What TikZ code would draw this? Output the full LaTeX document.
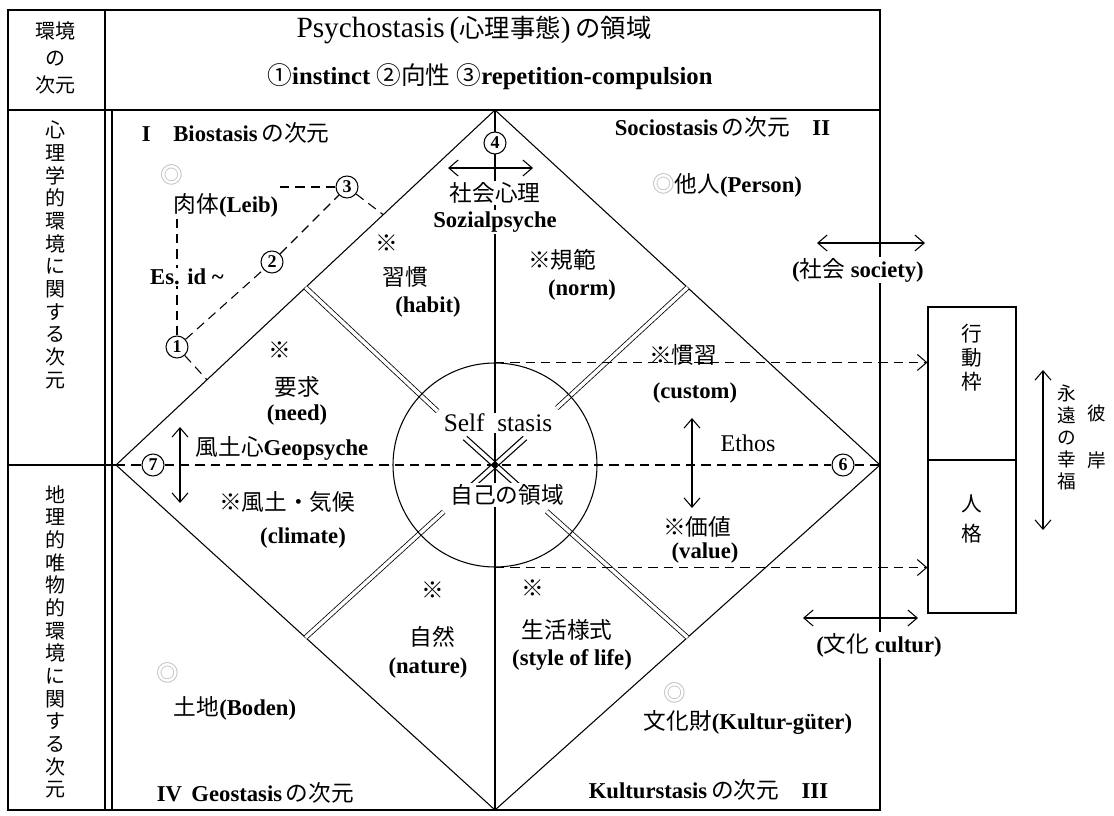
\documentclass[tikz,border=0pt]{standalone}
\usepackage{fontspec}
\setmainfont{Liberation Serif}
\newfontfamily\jp{Noto Sans CJK JP}
\usetikzlibrary{arrows.meta, calc}

% Japanese text inside Latin labels
\newcommand{\ja}[1]{{\jp\mdseries #1}}

\begin{document}
\begin{tikzpicture}[
  x=0.75pt, y=-0.75pt,
  line width=0.8pt,
  lab/.style={inner sep=1pt, font=\fontsize{17}{19}\selectfont\bfseries},
  mask/.style={lab, fill=white},
  num/.style={draw, circle, fill=white, inner sep=0pt, minimum size=16.5pt, font=\fontsize{13.5}{13.5}\selectfont\bfseries},
  vtext/.style={align=center, inner sep=0pt, font=\jp\fontsize{15}{17}\selectfont},
  dbl/.style={double, double distance=2.6pt, line width=0.6pt},
  dashline/.style={dash pattern=on 7pt off 4.5pt},
  biarrow/.style={{Straight Barb[length=7pt,width=12pt]}-{Straight Barb[length=7pt,width=12pt]}},
  arrow/.style={-{Straight Barb[length=7pt,width=12pt]}},
  frame/.style={line width=1pt}
]
\useasboundingbox (0,0) rectangle (1114,816);

% frame and columns
\draw[frame] (8,10) rectangle (880,810);
\draw[frame] (8,110) -- (880,110);
\draw[frame] (105,10) -- (105,810);
\draw (112,110) -- (112,810);

% the diamond
\coordinate (T) at (495,110);
\coordinate (L) at (116,465);
\coordinate (B) at (495,810);
\coordinate (R) at (880,465);
\coordinate (C) at (495,465);
\draw (8,465) -- (L);
\draw (T) -- (L) -- (B) -- (R) -- cycle;
\draw (T) -- (B);
\coordinate (mTL) at ($(T)!0.5!(L)$);
\coordinate (mBL) at ($(L)!0.5!(B)$);
\coordinate (mBR) at ($(B)!0.5!(R)$);
\coordinate (mTR) at ($(R)!0.5!(T)$);
\foreach \m/\d in {mTL/59pt, mTR/63pt, mBL/52pt, mBR/52pt}
  \draw[dbl] (\m) -- ($(C)!\d!(\m)$);

% self circle and star
\node[draw, circle, minimum size=153pt, inner sep=0pt] (self) at (C) {};
\foreach \s in {-1.8,1.8} {
  \draw ($(C)+(-30,-27)+(\s,-\s)$) -- ($(C)+(30,27)+(\s,-\s)$);
  \draw ($(C)+(-30,27)+(\s,\s)$) -- ($(C)+(30,-27)+(\s,\s)$);
}
\fill (C) circle[radius=2.5];

% horizontal axis
\node[num] (n7) at (153,465) {7};
\node[num] (n6) at (843,465) {6};
\draw[dashline] (L) -- (n7) -- (n6) -- (R);

% header
\node[vtext, font=\jp\fontsize{15}{20.5}\selectfont] (env) at (55,58) {環境\\の\\次元};
\node[lab, font=\fontsize{22}{24}\selectfont] (psy) at (474,30) {Psychostasis\,(\ja{\fontsize{19}{21}\selectfont 心理事態})\,\ja{\fontsize{19}{21}\selectfont の領域}};
\node[lab, font=\fontsize{18.5}{20}\selectfont\bfseries] (drv) at (490,77) {\ja{①}instinct \ja{②向性} \ja{③}repetition-compulsion};

% left column
\node[vtext] (psyenv) at (55,255) {心\\理\\学\\的\\環\\境\\に\\関\\す\\る\\次\\元};
\node[vtext] (geoenv) at (55,642) {地\\理\\的\\唯\\物\\的\\環\\境\\に\\関\\す\\る\\次\\元};

% I Biostasis
\node[lab, anchor=west] (bio) at (140,133) {I\quad Biostasis\,\ja{の次元}};
\node[lab, text=gray!55] (mk1) at (172,175) {\ja{◎}};
\node[lab] (leib) at (226,205) {\ja{肉体}(Leib)};
\node[num] (n3) at (347,187) {3};
\node[num] (n2) at (272,262) {2};
\node[num] (n1) at (177,347) {1};
\coordinate (e3) at ($(T)!0.295!(L)$);
\coordinate (e1) at ($(T)!0.76!(L)$);
\draw[dashline] (n3) -- (n3 -| leib.east);
\draw[dashline] (n3) -- (e3);
\draw[dashline] (n1) -- (n2) -- (n3);
\draw[dashline] (n1) -- (e1);
\draw[dashline] (n1) -- (n1 |- leib.south);
\node[mask] (esid) at (187,277) {Es. id \textasciitilde};

% II Sociostasis
\node[lab, anchor=east] (soc) at (832,127) {Sociostasis\,\ja{の次元}\quad II};
\node[lab] (person) at (727,185) {\textcolor{gray!55}{\ja{◎}}\ja{他人}(Person)};
\node[num] (n4) at (495,143) {4};
\coordinate (s1) at (448,168);
\coordinate (s2) at (533,168);
\draw[biarrow] (s1) -- (s2);
\node[mask] (sozj) at (495,193) {\ja{社会心理}};
\node[mask] (soz) at (495,222) {Sozialpsyche};
\node[lab] (habm) at (387,243) {\ja{※}};
\node[lab] (habj) at (405,277) {\ja{習慣}};
\node[lab] (hab) at (428,307) {(habit)};
\node[lab] (norj) at (562,260) {\ja{※規範}};
\node[lab] (nor) at (582,290) {(norm)};

% inner quadrants
\node[lab] (needm) at (280,350) {\ja{※}};
\node[lab] (needj) at (297,387) {\ja{要求}};
\node[lab] (need) at (297,415) {(need)};
\coordinate (g1) at (180,427);
\coordinate (g2) at (180,503);
\draw[biarrow] (g1) -- (g2);
\node[lab] (geo) at (282,448) {\ja{風土心}Geopsyche};
\node[lab] (climj) at (287,502) {\ja{※風土・気候}};
\node[lab] (clim) at (303,538) {(climate)};
\node[mask] (custj) at (683,355) {\ja{※慣習}};
\node[lab] (cust) at (695,393) {(custom)};
\coordinate (v1) at (692,418);
\coordinate (v2) at (692,508);
\draw[biarrow] (v1) -- (v2);
\node[lab, font=\fontsize{18}{20}\selectfont] (ethos) at (748,443) {Ethos};
\node[lab] (valj) at (697,527) {\ja{※価値}};
\node[lab] (val) at (705,553) {(value)};
\node[lab] (natm) at (433,590) {\ja{※}};
\node[lab] (natj) at (432,637) {\ja{自然}};
\node[lab] (nat) at (428,668) {(nature)};
\node[lab] (lifem) at (533,588) {\ja{※}};
\node[lab] (lifej) at (567,630) {\ja{生活様式}};
\node[lab] (life) at (572,660) {(style of life)};

% center texts
\node[mask, font=\fontsize{19}{21}\selectfont] (selft) at (498,423) {Self\ \ stasis};
\node[mask] (selfj) at (507,495) {\ja{自己の領域}};

% IV Geostasis and III Kulturstasis
\node[lab, text=gray!55] (mk4) at (168,673) {\ja{◎}};
\node[lab] (boden) at (235,708) {\ja{土地}(Boden)};
\node[lab, anchor=west] (geos) at (155,793) {IV\, Geostasis\,\ja{の次元}};
\node[lab, text=gray!55] (mk3) at (675,693) {\ja{◎}};
\node[lab] (gueter) at (748,722) {\ja{文化財}(Kultur-güter)};
\node[lab, anchor=east] (kult) at (830,790) {Kulturstasis\,\ja{の次元}\quad III};

% right side
\node[draw, minimum width=66pt, minimum height=114.75pt, inner sep=0pt] (act) at (972,383.5) {};
\node[draw, minimum width=66pt, minimum height=114.75pt, inner sep=0pt] (persona) at (972,536.5) {};
\node[vtext, font=\jp\fontsize{15.5}{18}\selectfont] (actt) at (972,358) {行\\動\\枠};
\node[vtext, font=\jp\fontsize{15.5}{22.5}\selectfont] (persont) at (972,519) {人\\格};
\draw[dashline, arrow] (self.north) -- (self.north -| act.west);
\draw[dashline, arrow] (self.south) -- (self.south -| persona.west);
\coordinate (h1) at (1043,370);
\coordinate (h2) at (1043,530);
\draw[biarrow] (h1) -- (h2);
\node[vtext, font=\jp\fontsize{14}{16.5}\selectfont] (happy) at (1067,437) {永\\遠\\の\\幸\\福};
\node[vtext, font=\jp\fontsize{14}{35}\selectfont] (beyond) at (1097,437) {彼\\岸};

\coordinate (c1) at (817,243);
\coordinate (c2) at (925,243);
\draw[biarrow] (c1) -- (c2);
\node[mask] (society) at (858,270) {(\ja{社会} society)};
\coordinate (k1) at (803,618);
\coordinate (k2) at (918,618);
\draw[biarrow] (k1) -- (k2);
\node[mask] (cultur) at (879,645) {(\ja{文化} cultur)};
\end{tikzpicture}
\end{document}
